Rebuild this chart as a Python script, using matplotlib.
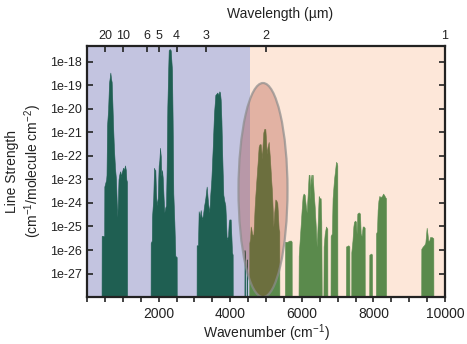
import numpy as np
import matplotlib
matplotlib.use("Agg")
import matplotlib.pyplot as plt
from matplotlib.patches import Ellipse
from matplotlib.ticker import FixedLocator, FuncFormatter, MultipleLocator

plt.rcParams['font.family'] = ['Liberation Sans', 'DejaVu Sans']
plt.rcParams['mathtext.fontset'] = 'custom'
plt.rcParams['mathtext.rm'] = 'Liberation Sans'
plt.rcParams['mathtext.it'] = 'Liberation Sans:italic'

FLOOR = -29.0

# Spectrum envelope, mid-IR part (wavenumber cm^-1, log10 line strength)
wn_ir = [405, 410, 480, 484, 535, 545, 560, 590, 615, 640, 652, 670, 689, 710, 726, 750, 782, 810, 835, 847,
         860, 880, 894, 915, 930, 950, 968, 990, 1006, 1030, 1062, 1085, 1099, 1117, 1120,
         1775, 1779, 1810, 1816, 1850, 1872, 1895, 1909, 1925, 1945, 1975, 2002, 2020, 2039, 2060, 2076,
         2095, 2114, 2140, 2160, 2185, 2207, 2225, 2244, 2265, 2282, 2310, 2338, 2355, 2374, 2392, 2411,
         2440, 2467, 2505, 2508,
         3060, 3063, 3100, 3119, 3150, 3175, 3212, 3240, 3268, 3305, 3343, 3360, 3380, 3417, 3445, 3473,
         3510, 3547, 3585, 3615, 3641, 3670, 3697, 3715, 3734, 3755, 3771, 3790, 3808, 3835, 3864, 3885,
         3901, 3940, 3960, 3976, 4013, 4035, 4050, 4069, 4072,
         4395, 4400, 4415, 4420, 4455, 4460, 4470, 4475]
logS_ir = [FLOOR, -25.4, -25.4, -23.3, -23.0, -22.8, -20.7, -20.0, -18.9, -18.6, -18.45, -18.7, -18.85, -19.8,
           -20.6, -21.6, -22.5, -23.0, -24.2, -24.6,
           -24.0, -23.0, -22.85, -22.7, -22.65, -22.9, -22.7, -22.6, -22.5, -22.6, -22.4, -22.6, -23.0, -23.1, FLOOR,
           FLOOR, -25.7, -25.6, -24.6, -23.8, -22.5, -22.6, -22.6, -23.5, -24.1, -23.8, -22.4, -22.2, -21.65, -22.0,
           -22.85, -22.6, -22.9, -23.8, -24.4, -24.2, -24.1, -22.5, -19.9, -18.5, -17.5, -17.45, -17.5, -17.9,
           -18.35, -20.5, -23.6, -24.8, -26.25, -26.3, FLOOR,
           FLOOR, -25.8, -25.8, -24.35, -24.6, -24.3, -24.7, -24.5, -24.15, -23.8, -23.3, -23.6, -24.0, -24.4,
           -23.6, -23.0, -21.7, -20.2, -19.4, -19.35, -19.3, -19.4, -19.25, -19.3, -19.6, -20.5, -21.6, -22.7,
           -23.65, -23.9, -24.1, -24.8, -25.55, -25.4, -24.8, -24.7, -24.7, -25.5, -26.1, -26.2, FLOOR,
           FLOOR, -26.0, -26.2, FLOOR, FLOOR, -26.4, -26.4, FLOOR]

# Spectrum envelope, near-IR part
wn_nir = [4530, 4534, 4555, 4572, 4590, 4609, 4646, 4665, 4683, 4710, 4739, 4765, 4795, 4820, 4851, 4870, 4888,
          4905, 4925, 4950, 4981, 5000, 5019, 5045, 5075, 5090, 5112, 5140, 5168, 5190, 5205, 5230, 5261, 5290,
          5316, 5335, 5354, 5372, 5375,
          5525, 5531, 5600, 5650, 5700, 5717, 5720,
          5905, 5913, 5940, 5966, 5995, 6024, 6050, 6080, 6110, 6137, 6165, 6192, 6215, 6230, 6249, 6270, 6285,
          6304, 6330, 6360, 6390, 6416, 6445, 6472, 6500, 6527, 6545, 6560, 6600, 6610, 6640, 6676, 6713, 6716,
          6800, 6806, 6840, 6860, 6899, 6930, 6955, 6980, 6992, 6995,
          7230, 7235, 7300, 7328, 7331, 7380, 7383, 7415, 7440, 7458, 7490, 7514, 7530, 7551, 7590, 7626, 7645,
          7670, 7700, 7730, 7756, 7760,
          7880, 7886, 7940, 7961, 7965,
          8068, 8073, 8100, 8118, 8140, 8166, 8200, 8240, 8270, 8296, 8330, 8352, 8355,
          9333, 9338, 9380, 9413, 9450, 9488, 9510, 9530, 9560, 9581, 9630, 9674, 9677]
logS_nir = [FLOOR, -25.7, -25.5, -25.0, -25.1, -25.3, -25.4, -24.8, -24.15, -23.5, -22.85, -22.3, -21.6, -21.5,
            -21.5, -21.8, -22.1, -21.5, -21.0, -20.85, -20.85, -21.3, -21.9, -21.6, -21.4, -21.7, -22.15, -22.9,
            -23.55, -24.4, -25.0, -24.4, -23.85, -23.9, -24.0, -24.5, -25.1, -25.2, FLOOR,
            FLOOR, -25.65, -25.65, -25.6, -25.6, -25.65, FLOOR,
            FLOOR, -26.25, -25.6, -25.0, -24.3, -23.7, -23.6, -23.65, -24.1, -24.4, -23.6, -22.8, -22.8, -23.8,
            -22.8, -23.2, -22.8, -22.8, -23.5, -24.15, -25.0, -25.85, -24.8, -23.7, -23.8, -23.8, -24.8, FLOOR,
            FLOOR, -25.85, -25.3, -25.0, -25.1, FLOOR,
            FLOOR, -25.4, -25.3, -23.8, -23.0, -22.6, -22.25, -22.3, -22.4, FLOOR,
            FLOOR, -25.85, -25.8, -25.85, FLOOR, FLOOR, -26.1, -25.6, -25.0, -24.8, -24.75, -24.8, -25.3, -24.45,
            -24.4, -24.45, -25.3, -25.4, -25.0, -25.0, -25.05, FLOOR,
            FLOOR, -26.2, -26.15, -26.2, FLOOR,
            FLOOR, -25.3, -25.2, -24.3, -23.9, -23.7, -23.75, -23.7, -23.6, -23.65, -23.75, -23.8, FLOOR,
            FLOOR, -25.95, -25.85, -25.8, -25.7, -25.05, -25.3, -25.6, -25.6, -25.45, -25.45, -25.5, FLOOR]

region_split = 4545
wavelength_ticks = [20, 10, 6, 5, 4, 3, 2, 1]
x_ticks = [2000, 4000, 6000, 8000, 10000]
y_decades = list(range(-28, -17))
y_labeled = list(range(-27, -17))

fig = plt.figure(figsize=(4.67, 3.44), dpi=100)
ax = fig.add_axes([0.1863, 0.1366, 0.7666, 0.7297])

ax.axvspan(0, region_split, color='#c3c4e0', lw=0, zorder=0)
ax.axvspan(region_split, 10000, color='#fde7d9', lw=0, zorder=0)

ax.fill_between(wn_ir, 10.0 ** FLOOR, 10.0 ** np.array(logS_ir), color='#1f5f52', lw=0.4,
                edgecolor='#1f5f52', zorder=2)
ax.fill_between(wn_nir, 10.0 ** FLOOR, 10.0 ** np.array(logS_nir), color='#5a8a4c', lw=0.4,
                edgecolor='#5f8f52', zorder=2)

ax.set_yscale('log')
ax.set_xlim(0, 10000)
ax.set_ylim(1e-28, 10 ** -17.32)

ell = Ellipse((0.4916, 0.426), 0.137, 0.853, transform=ax.transAxes,
              facecolor=(0.62, 0.16, 0.10, 0.28), edgecolor=(0.55, 0.55, 0.55, 0.7),
              lw=1.6, zorder=3)
ax.add_patch(ell)

# y ticks
ax.yaxis.set_major_locator(FixedLocator([10.0 ** d for d in y_decades]))
ax.yaxis.set_minor_locator(FixedLocator([]))
ax.yaxis.set_major_formatter(FuncFormatter(
    lambda v, p: ('1e%d' % round(np.log10(v))) if round(np.log10(v)) in y_labeled else ''))
ax.tick_params(axis='y', which='major', direction='in', length=4, width=1.2, right=True,
               labelsize=9, pad=4, colors='#222222')

# x ticks
ax.xaxis.set_major_locator(FixedLocator(x_ticks))
ax.xaxis.set_minor_locator(MultipleLocator(500))
ax.tick_params(axis='x', which='both', direction='out', length=3.5, width=1.2, labelsize=10,
               colors='#222222', pad=4)
ax.set_xlabel('Wavenumber (cm$^{-1}$)', fontsize=10, color='#222222')
ax.xaxis.set_label_coords(0.5, -0.1)
ax.set_ylabel('Line Strength\n(cm$^{-1}$/molecule cm$^{-2}$)', fontsize=10, color='#222222',
              labelpad=4, linespacing=1.2)

for s in ax.spines.values():
    s.set_linewidth(1.6)
    s.set_color('#222222')
    s.set_zorder(5)

# top wavelength axis
ax2 = ax.twiny()
ax2.set_xlim(ax.get_xlim())
ax2.xaxis.set_major_locator(FixedLocator([1e4 / w for w in wavelength_ticks]))
ax2.xaxis.set_minor_locator(FixedLocator([]))
ax2.set_xticklabels([str(w) for w in wavelength_ticks])
ax2.tick_params(axis='x', direction='in', length=4, width=1.2, labelsize=9, colors='#222222', pad=3)
ax2.set_xlabel('Wavelength (\u00b5m)', fontsize=10, color='#222222')
ax2.xaxis.set_label_coords(0.54, 1.11)
for s in ax2.spines.values():
    s.set_visible(False)

fig.savefig('out.png', dpi=100)
